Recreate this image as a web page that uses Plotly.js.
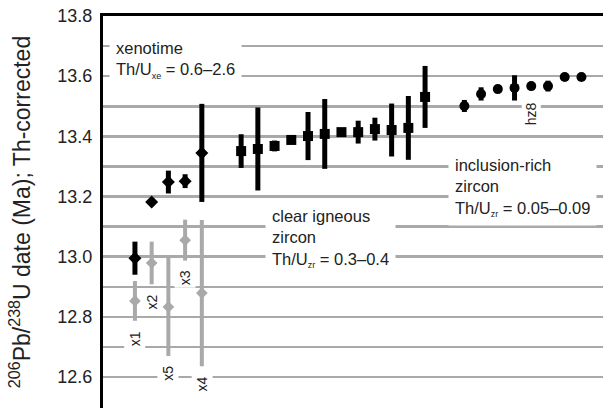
<!DOCTYPE html>
<html>
<head>
<meta charset="utf-8">
<script src="https://cdn.plot.ly/plotly-3.0.1.min.js"></script>
<style>html,body{margin:0;padding:0;overflow:hidden;background:#fff}#chart{width:603px;height:408px}</style>
</head>
<body>
<div id="chart"></div>
<script>
// xenotime (black diamonds)
const xenoX = [1, 2, 3, 4, 5];
const xenoAge = [12.995, 13.182, 13.248, 13.251, 13.345];
const xenoErr = [0.055, 0.013, 0.038, 0.023, 0.163];
// xenotime alternative analyses (grey diamonds)
const greyX = [1, 2, 3, 4, 5];
const greyAge = [12.853, 12.979, 12.833, 13.055, 12.879];
const greyErr = [0.066, 0.071, 0.163, 0.068, 0.243];
const greyLabels = ['x1', 'x2', 'x5', 'x3', 'x4'];
// clear igneous zircon (black squares)
const clearX = [7.35, 8.35, 9.35, 10.35, 11.35, 12.35, 13.35, 14.35, 15.35, 16.35, 17.35, 18.35];
const clearAge = [13.351, 13.358, 13.368, 13.388, 13.401, 13.408, 13.414, 13.414, 13.424, 13.421, 13.428, 13.531];
const clearErr = [0.056, 0.138, 0.018, 0.008, 0.080, 0.116, 0.012, 0.038, 0.038, 0.088, 0.106, 0.103];
// inclusion-rich zircon (black circles)
const inclX = [20.7, 21.7, 22.7, 23.7, 24.7, 25.7, 26.7, 27.7];
const inclAge = [13.501, 13.541, 13.557, 13.561, 13.567, 13.567, 13.597, 13.597];
const inclErr = [0.020, 0.022, 0.010, 0.042, 0.008, 0.018, 0.005, 0.005];
const inclLabelIndex = 4; const inclLabel = 'hz8';
// y axis ticks and grid
const yTickVals = [12.6, 12.8, 13.0, 13.2, 13.4, 13.6, 13.8];
const yTickText = ['12.6', '12.8', '13.0', '13.2', '13.4', '13.6', '13.8'];
const yGridVals = [12.5, 12.6, 12.7, 12.8, 12.9, 13.0, 13.1, 13.2, 13.3, 13.4, 13.5, 13.6, 13.7, 13.8];

const FONT = 'Liberation Sans, Arial, sans-serif';
const GREY = '#a9a9a9';

function errTrace(x, y, e, color, thick, symbol, size) {
  return {
    type: 'scatter', mode: 'markers', x: x, y: y,
    marker: {symbol: symbol, size: size, color: color, line: {width: 0}},
    error_y: {type: 'data', array: e, visible: true, color: color, thickness: thick, width: 0},
    hoverinfo: 'skip', showlegend: false, cliponaxis: false
  };
}

const traces = [
  errTrace(greyX, greyAge, greyErr, GREY, 4, 'diamond', 9),
  errTrace(xenoX, xenoAge, xenoErr, '#000', 5, 'diamond', 10),
  errTrace(clearX, clearAge, clearErr, '#000', 5, 'square', 10),
  errTrace(inclX, inclAge, inclErr, '#000', 5, 'circle', 10)
];

const annotations = [];
greyLabels.forEach((t, i) => {
  annotations.push({
    x: greyX[i], y: greyAge[i] - greyErr[i], xref: 'x', yref: 'y',
    text: t, showarrow: false, textangle: -90, yanchor: 'top', xanchor: 'center', yshift: -7,
    bgcolor: '#fff', borderpad: 2, font: {family: FONT, size: 14, color: '#222'}
  });
});
annotations.push({
  x: inclX[inclLabelIndex], y: inclAge[inclLabelIndex] - inclErr[inclLabelIndex], xref: 'x', yref: 'y',
  text: inclLabel, showarrow: false, textangle: -90, yanchor: 'top', xanchor: 'center', yshift: -12,
  bgcolor: '#fff', borderpad: 1, font: {family: FONT, size: 14, color: '#222'}
});

function box(text, x, y) {
  return {
    x: x, y: y, xref: 'x', yref: 'y', text: text, showarrow: false,
    xanchor: 'left', yanchor: 'middle', align: 'left',
    bgcolor: '#fff', borderpad: 6,
    font: {family: FONT, size: 16.5, color: '#222'}
  };
}
const sub = s => '<sub><span style="font-size:9px">' + s + '</span></sub>';
annotations.push(box('xenotime<br>Th/U' + sub('xe') + ' = 0.6–2.6', -0.55, 13.654));
annotations.push(box('clear igneous<br>zircon<br>Th/U' + sub('zr') + ' = 0.3–0.4', 8.8, 13.062));
annotations.push(box('inclusion-rich<br>zircon<br>Th/U' + sub('zr') + ' = 0.05–0.09', 19.7, 13.23));

const layout = {
  width: 603, height: 408,
  margin: {l: 103, r: 0, t: 16, b: 0, pad: 0},
  paper_bgcolor: '#fff', plot_bgcolor: '#fff',
  font: {family: FONT, color: '#222'},
  xaxis: {
    range: [-0.91, 28.99], side: 'top', showline: true, linecolor: '#000', linewidth: 3,
    showgrid: false, zeroline: false, showticklabels: false, ticks: ''
  },
  yaxis: {
    range: [12.497, 13.8], tickmode: 'array', tickvals: yTickVals, ticktext: yTickText,
    showline: true, linecolor: '#000', linewidth: 3, ticks: '',
    showgrid: true, gridcolor: GREY, gridwidth: 2.5, zeroline: false,
    minor: {tickmode: 'array', tickvals: yGridVals, showgrid: true, gridcolor: GREY, gridwidth: 2.5, ticks: ''},
    tickfont: {family: FONT, size: 18, color: '#222'},
    ticklabelstandoff: 4,
    title: {text: '<sup>206</sup>Pb/<sup>238</sup>U date (Ma); Th-corrected',
            font: {family: FONT, size: 23, color: '#222'}, standoff: 21}
  },
  annotations: annotations,
  showlegend: false
};

Plotly.newPlot('chart', traces, layout, {staticPlot: true, displayModeBar: false});
</script>
</body>
</html>
